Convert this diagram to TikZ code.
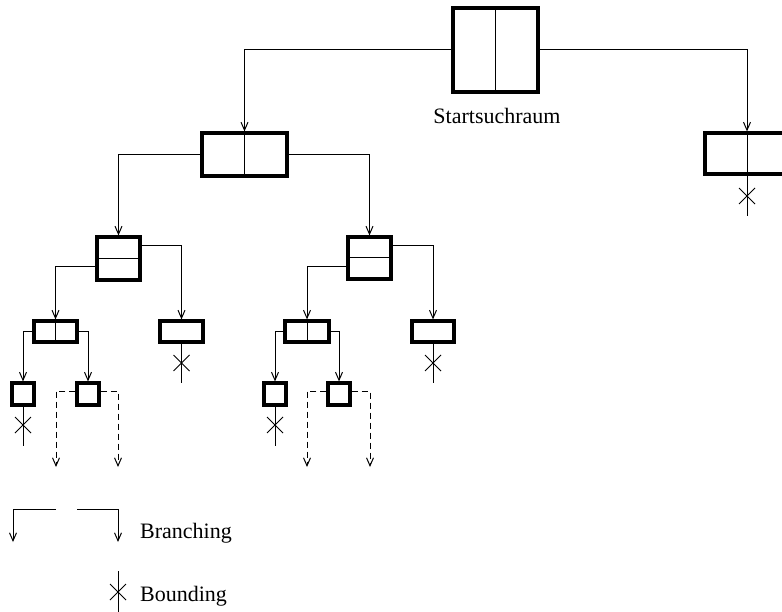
\documentclass[tikz,border=0pt]{standalone}
\usepackage{fontspec}
\setmainfont{Liberation Serif}
\usetikzlibrary{arrows.meta}
\begin{document}
\begin{tikzpicture}[x=1pt,y=-1pt,
  box/.style={draw, line width=3.2pt, rectangle, inner sep=0pt, minimum width=#1},
  box/.default=43pt,
  conn/.style={line width=1pt, -{Straight Barb[length=8pt,width=7pt,line width=1pt]}},
  plain/.style={line width=1pt},
  dconn/.style={conn, dashed, dash pattern=on 6pt off 4pt},
  lbl/.style={font=\fontsize{22}{26}\selectfont, inner sep=0pt},
  xmark/.pic={\draw[line width=1pt] (-8,-8) -- (8,8) (-8,8) -- (8,-8);}
]
\useasboundingbox (0,0) rectangle (782,612);

% boxes
\node[box=85pt, minimum height=84pt] (top) at (495.5,50) {};
\node[box=84pt, minimum height=41pt] (R) at (747,153.5) {};
\node[box=85pt, minimum height=43pt] (A) at (244.5,154.5) {};
\node[box=43pt, minimum height=43pt] (B) at (118.5,258.5) {};
\node[box=43pt, minimum height=42pt] (C) at (369.5,258) {};
\node[box=43pt, minimum height=21pt] (D) at (55.5,331.5) {};
\node[box=43pt, minimum height=21pt] (E) at (181.5,331.5) {};
\node[box=44pt, minimum height=21pt] (F) at (307,331.5) {};
\node[box=42pt, minimum height=21pt] (G) at (433,331.5) {};
\node[box=22pt, minimum height=22pt] (D1) at (23,394) {};
\node[box=22pt, minimum height=22pt] (D2) at (88,394) {};
\node[box=22pt, minimum height=22pt] (F1) at (275,394) {};
\node[box=22pt, minimum height=22pt] (F2) at (339,394) {};

% dividers
\draw[plain] (top.north) -- (top.south);
\draw[plain] (R.north) -- (R.south);
\draw[plain] (A.north) -- (A.south);
\draw[plain] (B.west) -- (B.east);
\draw[plain] (C.west) -- (C.east);
\draw[plain] (D.north) -- (D.south);
\draw[plain] (F.north) -- (F.south);

% label
\node[lbl, anchor=base] (start) at (497,124) {Startsuchraum};

% branching connectors
\draw[conn] (top.west) -| (A.north);
\draw[conn] (top.east) -| (R.north);
\draw[conn] (A.west) -| (B.north);
\draw[conn] (A.east) -| (C.north);
\draw[conn] ([yshift=-8.5pt]B.west) -| (D.north);
\draw[conn] ([yshift=12.5pt]B.east) -| (E.north);
\draw[conn] ([yshift=-9pt]C.west) -| (F.north);
\draw[conn] ([yshift=12pt]C.east) -| (G.north);
\draw[conn] (D.west) -| (D1.north);
\draw[conn] (D.east) -| (D2.north);
\draw[conn] (F.west) -| (F1.north);
\draw[conn] (F.east) -| (F2.north);

% dashed open branches
\coordinate (d2l) at (56,467);
\coordinate (d2r) at (118,467);
\coordinate (f2l) at (307,467);
\coordinate (f2r) at (370,467);
\draw[dconn] ([yshift=3pt]D2.west) -| (d2l);
\draw[dconn] ([yshift=3pt]D2.east) -| (d2r);
\draw[dconn] ([yshift=3pt]F2.west) -| (f2l);
\draw[dconn] ([yshift=3pt]F2.east) -| (f2r);

% bounding
\coordinate (eR) at (747,216);
\coordinate (eE) at (181.5,383);
\coordinate (eG) at (433,383);
\coordinate (eD1) at (23,446);
\coordinate (eF1) at (275,446);
\draw[plain] (R.south) -- (eR);
\draw[plain] (E.south) -- (eE);
\draw[plain] (G.south) -- (eG);
\draw[plain] (D1.south) -- (eD1);
\draw[plain] (F1.south) -- (eF1);
\pic at (747,196) {xmark};
\pic at (181.5,363) {xmark};
\pic at (433,363) {xmark};
\pic at (23,425) {xmark};
\pic at (275,425) {xmark};

% legend
\coordinate (l1a) at (56,509);
\coordinate (l1b) at (13,542);
\coordinate (l2a) at (77,509);
\coordinate (l2b) at (118,542);
\draw[conn] (l1a) -| (l1b);
\draw[conn] (l2a) -| (l2b);
\node[lbl, anchor=base west] (branching) at (140,538) {Branching};
\coordinate (b1) at (118,571);
\coordinate (b2) at (118,612);
\draw[plain] (b1) -- (b2);
\pic at (118,592) {xmark};
\node[lbl, anchor=base west] (bounding) at (140,601) {Bounding};
\end{tikzpicture}
\end{document}
